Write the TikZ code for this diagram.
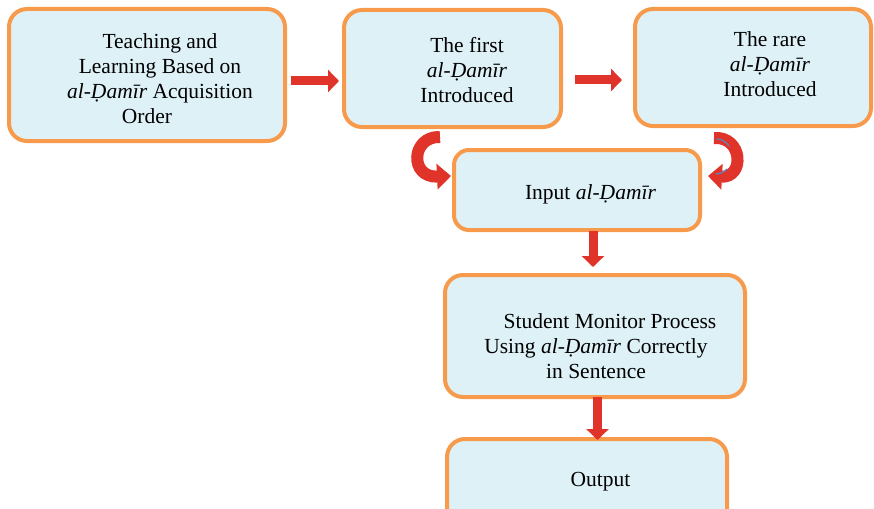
\documentclass[tikz,border=0pt]{standalone}
\usepackage{fontspec}
\setmainfont{Liberation Serif}
\usetikzlibrary{arrows.meta}
\definecolor{boxline}{HTML}{F79A4C}
\definecolor{boxfill}{HTML}{DEF1F7}
\definecolor{arrowred}{HTML}{E0332A}
\definecolor{streak}{HTML}{5A86C2}
\newcommand{\damir}{\textit{al-Ḍamīr}}
\tikzset{
  box/.style={draw=boxline, fill=boxfill, line width=4pt, rounded corners=18pt,
    inner sep=0pt},
  lbl/.style={align=center, inner sep=0pt, font=\fontsize{21.5pt}{25pt}\selectfont},
  blockarrow/.style={draw=arrowred, line width=9pt,
    -{Triangle[width=22pt,length=11pt]}, arrowred},
  curvearrow/.style={draw=arrowred, line width=12pt,
    -{Triangle[width=25pt,length=14pt]}, arrowred},
  streakline/.style={draw=streak, line width=1.2pt, line cap=round}
}
\begin{document}
\begin{tikzpicture}[x=1pt,y=-1pt]
\useasboundingbox (0,0) rectangle (874,508);
\clip (0,0) rectangle (874,508);

% boxes
\node[box, minimum width=276pt, minimum height=132pt] (b1) at (147,75) {};
\node[box, minimum width=217pt, minimum height=117pt] (b2) at (452.5,68.5) {};
\node[box, minimum width=236pt, minimum height=117pt] (b3) at (753,67.5) {};
\node[box, rounded corners=15pt, minimum width=246pt, minimum height=80pt] (b4) at (577,190) {};
\node[box, minimum width=300pt, minimum height=122pt] (b5) at (595,336) {};
\node[box, minimum width=280pt, minimum height=100pt] (b6) at (587,489) {};

% texts
\node[lbl] (t1) at (160,79) {Teaching and\\Learning Based on\\\damir{} Acquisition\\Order\hspace*{26pt}};
\node[lbl] (t2) at (467,70.5) {The first\\\damir\\Introduced};
\node[lbl] (t3) at (770,64.5) {The rare\\\damir\\Introduced};
\node[lbl] (t4) at (590.5,194) {Input \damir};
\node[lbl] (t5) at (596,346) {\hspace*{28pt}Student Monitor Process\\Using \damir{} Correctly\\in Sentence};
\node[lbl] (t6) at (600.5,482) {Output};

% straight connectors
\coordinate (a1s) at ([yshift=-6pt]b1.east);
\draw[blockarrow, shorten <=4pt, shorten >=3pt] (a1s) -- (a1s -| b2.west);
\coordinate (a2s) at ([yshift=-11.5pt]b2.east);
\draw[blockarrow, shorten <=12pt, shorten >=11pt] (a2s) -- (a2s -| b3.west);
\coordinate (d1s) at ([xshift=16pt]b4.south);
\draw[blockarrow, shorten <=-1pt, shorten >=6pt] (d1s) -- (d1s |- b5.north);
\coordinate (d2s) at ([xshift=2.5pt]b5.south);
\draw[blockarrow, shorten <=-2pt, shorten >=-3pt] (d2s) -- (d2s |- b6.north);

% curved connectors into the input box
\coordinate (lc) at ([xshift=-12.5pt,yshift=-8pt]b2.south);
\coordinate (lt) at ([xshift=-1pt,yshift=14pt]b4.west);
\draw[curvearrow] (lc) .. controls (411,136) and (409,178) .. (lt);
\coordinate (rc) at ([xshift=-39pt,yshift=-10pt]b3.south);
\coordinate (rt) at ([xshift=6pt,yshift=14pt]b4.east);
\draw[curvearrow] (rc) .. controls (743,136) and (745,178) .. (rt);
\draw[streakline] (717,139) .. controls (722,139) and (726,142) .. (729,146);
\draw[streakline] (716,174) .. controls (720,174) and (724,172) .. (727,169);
\end{tikzpicture}
\end{document}
